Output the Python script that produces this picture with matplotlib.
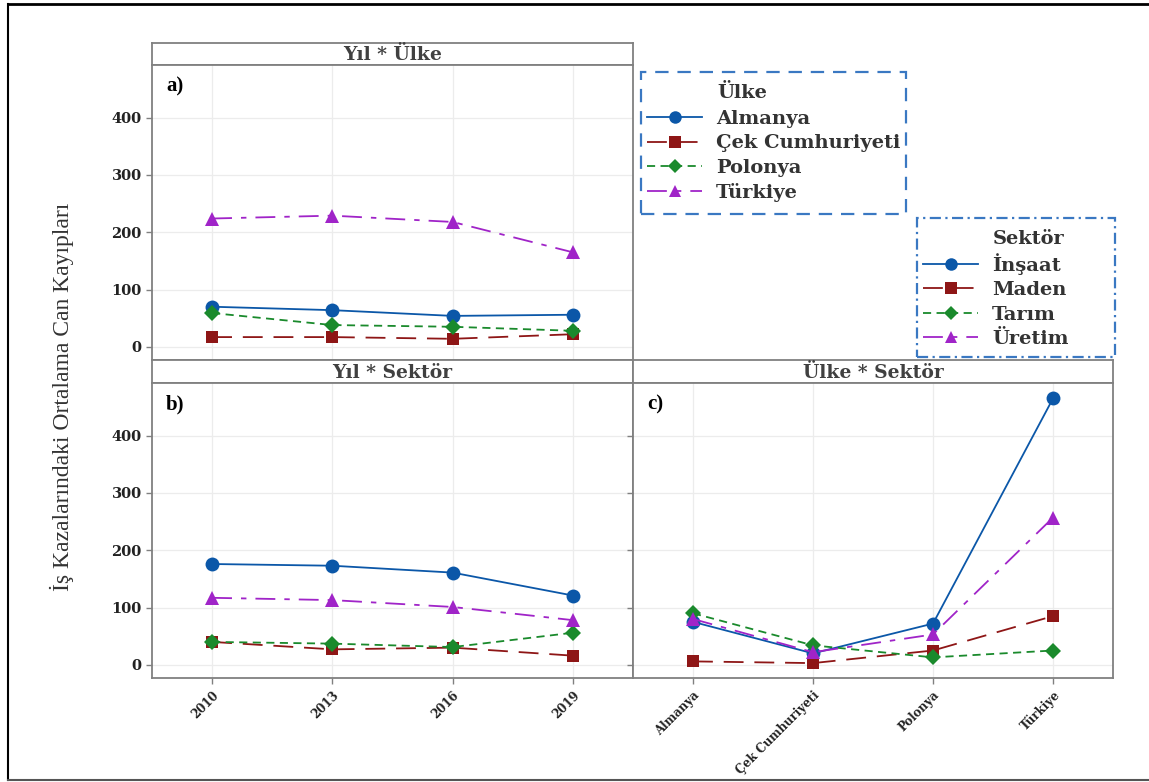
import matplotlib.pyplot as plt
from matplotlib.lines import Line2D
from matplotlib.patches import Rectangle

# categories
years = ["2010", "2013", "2016", "2019"]
countries = ["Almanya", "Çek Cumhuriyeti", "Polonya", "Türkiye"]
sectors = ["İnşaat", "Maden", "Tarım", "Üretim"]

# a) Yıl * Ülke  (one list per country, over years)
almanya_yil = [70, 64, 54, 56]
cek_yil = [17, 17, 14, 22]
polonya_yil = [59, 38, 35, 28]
turkiye_yil = [224, 229, 218, 165]

# b) Yıl * Sektör  (one list per sector, over years)
insaat_yil = [176, 173, 161, 121]
maden_yil = [40, 27, 30, 16]
tarim_yil = [40, 37, 31, 56]
uretim_yil = [117, 113, 101, 78]

# c) Ülke * Sektör  (one list per sector, over countries)
insaat_ulke = [75, 20, 72, 465]
maden_ulke = [6, 3, 25, 85]
tarim_ulke = [90, 34, 13, 25]
uretim_ulke = [80, 22, 53, 257]

yticks = [0, 100, 200, 300, 400]

# series styles: blue solid / red long dash / green short dash / purple dash-dot
styles = [
    dict(color="#0B57A8", marker="o", markersize=10, linestyle="-"),
    dict(color="#8E1616", marker="s", markersize=9, linestyle=(0, (11, 6))),
    dict(color="#1A8A2C", marker="D", markersize=8, linestyle=(0, (4.5, 3))),
    dict(color="#A024C8", marker="^", markersize=10, linestyle=(0, (11, 5, 3, 5))),
]

W, H = 1149, 782
fig = plt.figure(figsize=(W / 100, H / 100), dpi=100)
serif = "DejaVu Serif"
spine_col = "#808080"


def px_axes(l, t, r, b):
    return fig.add_axes([l / W, 1 - b / H, (r - l) / W, (b - t) / H])


def strip(l, t, r, b, title):
    s = px_axes(l, t, r, b)
    s.set_xticks([])
    s.set_yticks([])
    for sp in s.spines.values():
        sp.set_color(spine_col)
        sp.set_linewidth(1.3)
    s.text(0.5, 0.45, title, ha="center", va="center", fontsize=13.5,
           fontweight="bold", family=serif, color="#404040", transform=s.transAxes)
    return s


def panel(l, t, r, b, series, xlabels, tag, show_x, show_y):
    ax = px_axes(l, t, r, b)
    x = range(len(xlabels))
    for vals, st in zip(series, styles):
        ax.plot(x, vals, linewidth=1.3, markeredgewidth=0, **st)
    ax.set_xlim(-0.5, 3.5)
    ax.set_ylim(-23, 492)
    ax.set_yticks(yticks)
    ax.set_xticks(list(x))
    ax.grid(True, color="#ECECEC", linewidth=0.9)
    ax.set_axisbelow(True)
    for sp in ax.spines.values():
        sp.set_color(spine_col)
        sp.set_linewidth(1.3)
    ax.tick_params(colors=spine_col, length=4, width=1)
    if show_y:
        ax.set_yticklabels([str(v) for v in yticks], fontsize=10.5,
                           fontweight="bold", family=serif, color="#222222")
    else:
        ax.set_yticklabels([])
    if show_x:
        ax.set_xticklabels(xlabels, rotation=45, ha="right", rotation_mode="anchor",
                           fontsize=8.5, fontweight="bold", family=serif, color="#222222")
    else:
        ax.set_xticklabels([])
        ax.tick_params(axis="x", length=0)
    ax.text(14 / (r - l), 1 - 21 / (b - t), tag, transform=ax.transAxes,
            ha="left", va="center", fontsize=15, fontweight="bold",
            family="Liberation Serif", color="black")
    return ax


strip(152, 43, 633, 65, "Yıl * Ülke")
panel(152, 65, 633, 360, [almanya_yil, cek_yil, polonya_yil, turkiye_yil],
      years, "a)", False, True)

strip(152, 360, 633, 383, "Yıl * Sektör")
panel(152, 383, 633, 678, [insaat_yil, maden_yil, tarim_yil, uretim_yil],
      years, "b)", True, True)

strip(633, 360, 1113, 383, "Ülke * Sektör")
panel(633, 383, 1113, 678, [insaat_ulke, maden_ulke, tarim_ulke, uretim_ulke],
      countries, "c)", True, False)

fig.text(62 / W, 1 - 397 / H, "İş Kazalarındaki Ortalama Can Kayıpları",
         rotation=90, ha="center", va="center", fontsize=17,
         family="Liberation Serif", color="#333333")


def legend_box(l, t, r, b, ls, title, labels, first_y, title_y):
    fig.patches.append(Rectangle((l / W, 1 - b / H), (r - l) / W, (b - t) / H,
                                 transform=fig.transFigure, fill=False,
                                 edgecolor="#3A78C2", linewidth=1.6, linestyle=ls))
    handles = [Line2D([], [], linewidth=1.3, markeredgewidth=0,
                      **dict(st, markersize=st["markersize"] - 1)) for st in styles]
    leg = fig.legend(handles, labels, loc="upper left",
                     bbox_to_anchor=((l + 6) / W, 1 - (first_y - 7) / H),
                     frameon=False, borderpad=0, borderaxespad=0,
                     handlelength=2.85, handletextpad=0.7, labelspacing=0.33,
                     prop=dict(family=serif, weight="bold", size=14))
    for txt in leg.get_texts():
        txt.set_color("#333333")
    fig.text((l + 76) / W, 1 - title_y / H, title, ha="left", va="center",
             fontsize=14, fontweight="bold", family=serif, color="#333333")


legend_box(641, 72, 906, 214, (0, (6, 4)), "Ülke", countries, 117, 93)
legend_box(917, 218, 1115, 357, (0, (5, 2, 1, 2)), "Sektör", sectors, 260, 239)

# outer frame of the figure image
fig.add_artist(Line2D([8 / W, 8 / W], [1 - 780 / H, 1 - 4 / H], color="black",
                      linewidth=1.5, transform=fig.transFigure))
fig.add_artist(Line2D([8 / W, 1], [1 - 4 / H, 1 - 4 / H], color="black",
                      linewidth=2, transform=fig.transFigure))
fig.add_artist(Line2D([8 / W, 1], [1 - 780 / H, 1 - 780 / H], color="#555555",
                      linewidth=1.5, transform=fig.transFigure))

fig.savefig("out.png", dpi=100)
